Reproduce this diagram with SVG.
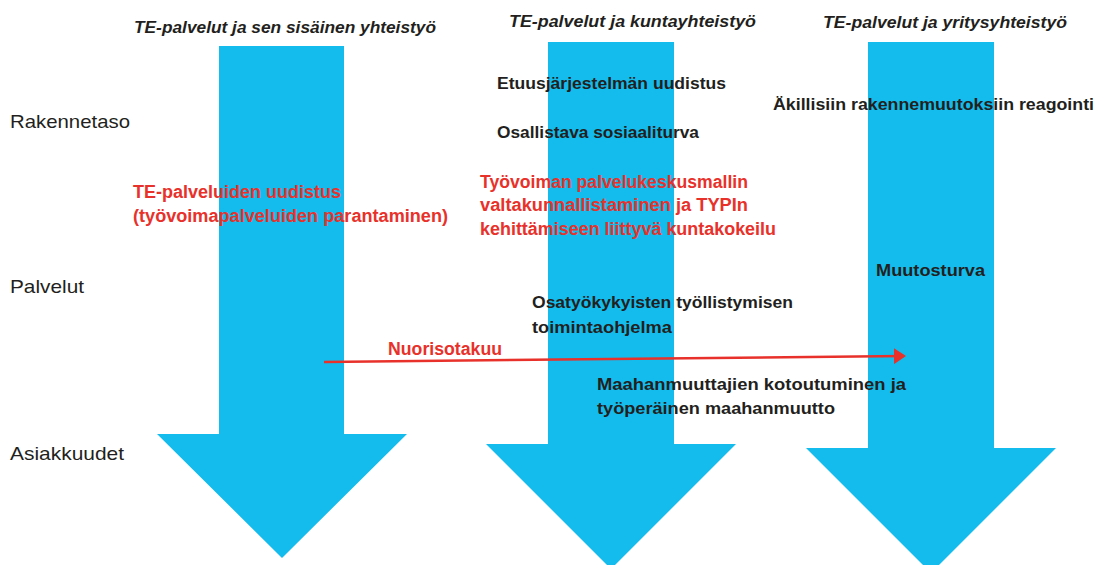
<svg xmlns="http://www.w3.org/2000/svg" width="1101" height="565" viewBox="0 0 1101 565">
<defs>
<style>
.arrow{fill:#13BCED;}
.title{font-family:"Liberation Sans",Arial,sans-serif;font-weight:bold;font-style:italic;font-size:17px;fill:#231F20;}
.lvl{font-family:"Liberation Sans",Arial,sans-serif;font-size:19px;fill:#231F20;}
.blk{font-family:"Liberation Sans",Arial,sans-serif;font-weight:bold;font-size:17px;fill:#231F20;}
.red{font-family:"Liberation Sans",Arial,sans-serif;font-weight:bold;font-size:18px;fill:#E8312A;}
.conn{stroke:#E8312A;stroke-width:2.5;fill:none;}
</style>
<marker id="ah" markerWidth="12" markerHeight="16" refX="10" refY="8" orient="auto" markerUnits="userSpaceOnUse" viewBox="0 0 12 16">
<path d="M0,0 L12,8 L0,16 z" fill="#E8312A"/>
</marker>
</defs>
<rect width="1101" height="565" fill="#ffffff"/>
<g id="arrow1"><polygon class="arrow" points="219,46 344,46 344,434 407,434 282,558 157,434 219,434"/></g>
<g id="arrow2"><polygon class="arrow" points="548,42 674,42 674,444 736,444 611,569 486,444 548,444"/></g>
<g id="arrow3"><polygon class="arrow" points="868,42 994,42 994,448 1056,448 931,573 806,448 868,448"/></g>
<g id="titles">
<text class="title" x="134" y="33" textLength="302" lengthAdjust="spacingAndGlyphs">TE-palvelut ja sen sisäinen yhteistyö</text>
<text class="title" x="509" y="27" textLength="247" lengthAdjust="spacingAndGlyphs">TE-palvelut ja kuntayhteistyö</text>
<text class="title" x="823" y="28" textLength="244" lengthAdjust="spacingAndGlyphs">TE-palvelut ja yritysyhteistyö</text>
</g>
<g id="levels">
<text class="lvl" x="10" y="128" textLength="120" lengthAdjust="spacingAndGlyphs">Rakennetaso</text>
<text class="lvl" x="10" y="293" textLength="74" lengthAdjust="spacingAndGlyphs">Palvelut</text>
<text class="lvl" x="10" y="460" textLength="114" lengthAdjust="spacingAndGlyphs">Asiakkuudet</text>
</g>
<g id="te-uudistus">
<text class="red" x="133" y="198" textLength="208" lengthAdjust="spacingAndGlyphs">TE-palveluiden uudistus</text>
<text class="red" x="133" y="222" textLength="315" lengthAdjust="spacingAndGlyphs">(työvoimapalveluiden parantaminen)</text>
</g>
<g id="etuus"><text class="blk" x="497" y="89" textLength="229" lengthAdjust="spacingAndGlyphs">Etuusjärjestelmän uudistus</text></g>
<g id="osallistava"><text class="blk" x="497" y="138" textLength="202" lengthAdjust="spacingAndGlyphs">Osallistava sosiaaliturva</text></g>
<g id="kuntakokeilu">
<text class="red" x="480" y="188" textLength="268" lengthAdjust="spacingAndGlyphs">Työvoiman palvelukeskusmallin</text>
<text class="red" x="480" y="211" textLength="268" lengthAdjust="spacingAndGlyphs">valtakunnallistaminen ja TYPIn</text>
<text class="red" x="480" y="235" textLength="296" lengthAdjust="spacingAndGlyphs">kehittämiseen liittyvä kuntakokeilu</text>
</g>
<g id="akillisiin"><text class="blk" x="773" y="110" textLength="321" lengthAdjust="spacingAndGlyphs">Äkillisiin rakennemuutoksiin reagointi</text></g>
<g id="muutosturva"><text class="blk" x="876" y="276" textLength="109" lengthAdjust="spacingAndGlyphs">Muutosturva</text></g>
<g id="osatyokykyisten">
<text class="blk" x="532" y="308" textLength="261" lengthAdjust="spacingAndGlyphs">Osatyökykyisten työllistymisen</text>
<text class="blk" x="532" y="333" textLength="140" lengthAdjust="spacingAndGlyphs">toimintaohjelma</text>
</g>
<g id="maahanmuuttajien">
<text class="blk" x="597" y="390" textLength="309" lengthAdjust="spacingAndGlyphs">Maahanmuuttajien kotoutuminen ja</text>
<text class="blk" x="597" y="414" textLength="238" lengthAdjust="spacingAndGlyphs">työperäinen maahanmuutto</text>
</g>
<g id="connectors">
<line class="conn" x1="324" y1="362" x2="904" y2="356" marker-end="url(#ah)"/>
<text class="red" x="388" y="355" textLength="114" lengthAdjust="spacingAndGlyphs">Nuorisotakuu</text>
</g>
</svg>
